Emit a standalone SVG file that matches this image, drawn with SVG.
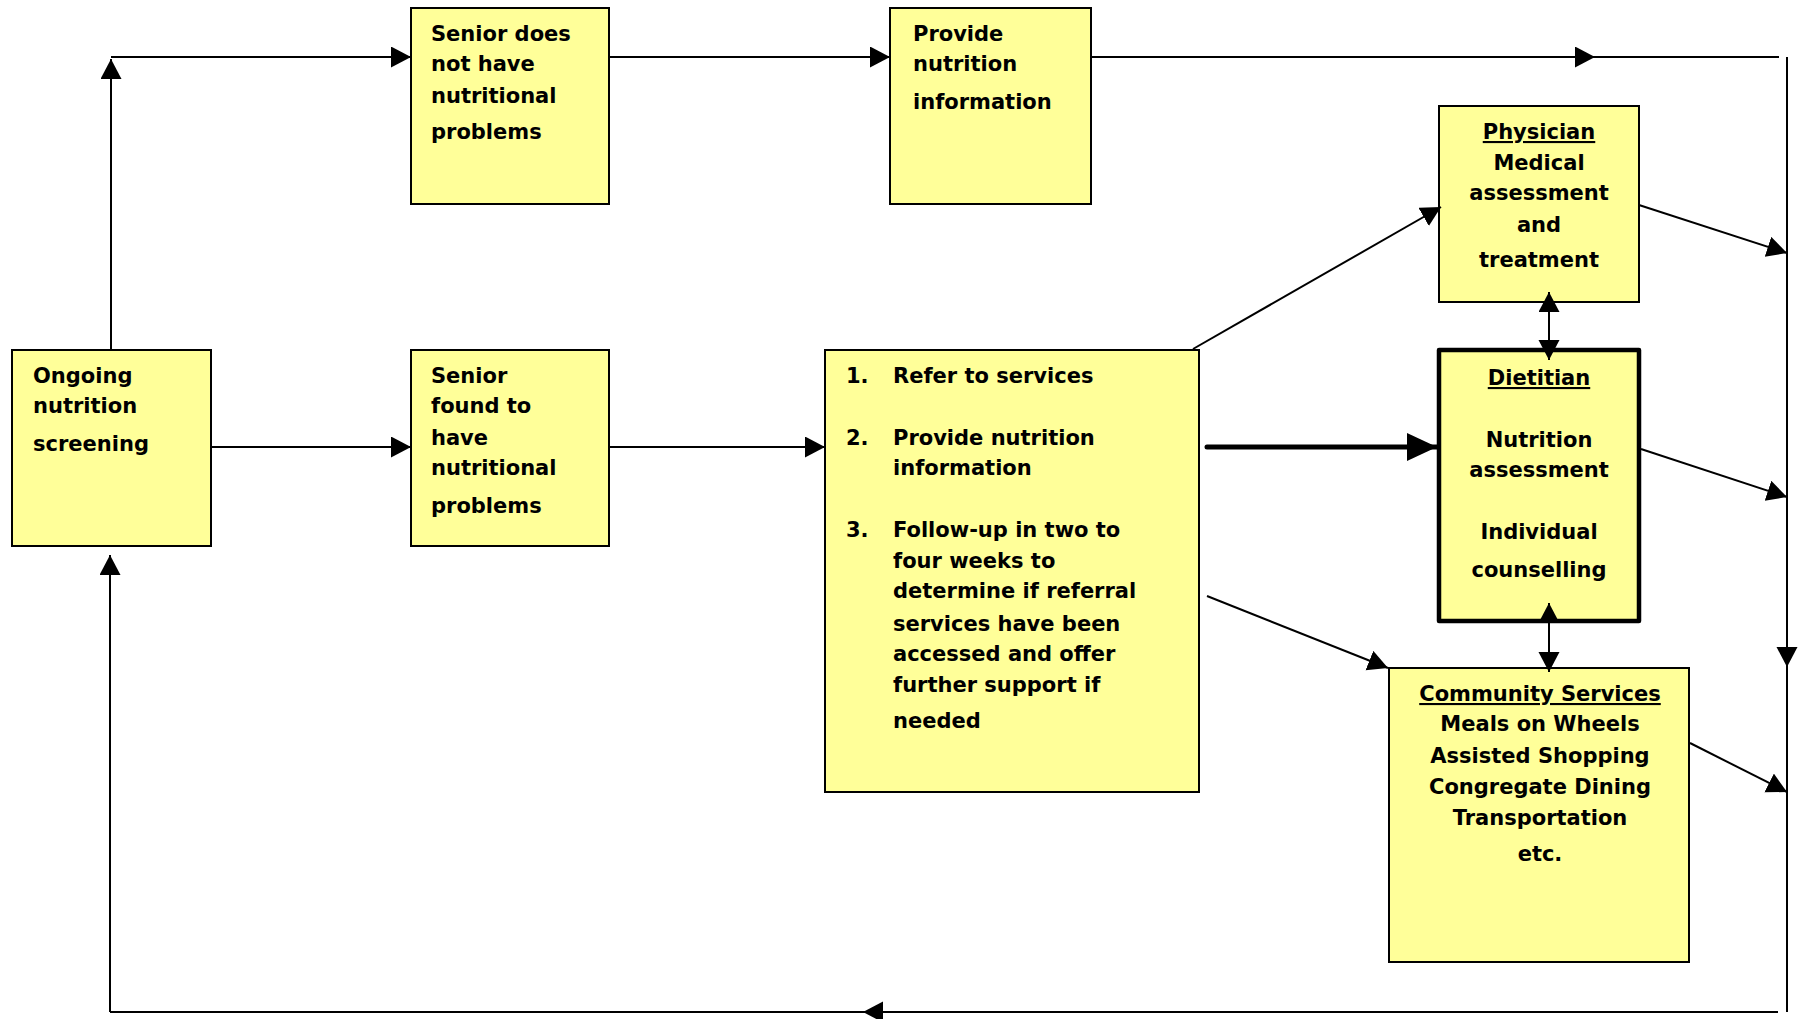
<svg xmlns="http://www.w3.org/2000/svg" width="1799" height="1019" viewBox="0 0 1799 1019">
<style>
.box{fill:#ffff99;stroke:#000;stroke-width:2}
.thick{fill:#ffff99;stroke:#000;stroke-width:4.5;stroke-linejoin:round}
text{font-family:"DejaVu Sans",Verdana,sans-serif;font-weight:bold;font-size:21px;fill:#000}
.c{text-anchor:middle}
.u{text-decoration:underline}
.ln{stroke:#000;stroke-width:2;fill:none}
</style>
<defs>
<marker id="ah" markerUnits="userSpaceOnUse" markerWidth="21" markerHeight="22" refX="20" refY="10.5" orient="auto-start-reverse" viewBox="0 0 21 22">
<path d="M0,0 L20,10.5 L0,21 z" fill="#000"/>
</marker>
<marker id="ahb" markerUnits="userSpaceOnUse" markerWidth="31" markerHeight="29" refX="30" refY="14" orient="auto" viewBox="0 0 31 29">
<path d="M0,0 L30,14 L0,28 z" fill="#000"/>
</marker>
</defs>
<rect width="1799" height="1019" fill="#fff"/>
<g id="node-screening">
<rect class="box" x="12" y="350" width="199" height="196"/>
<text x="33" y="383">Ongoing</text>
<text x="33" y="413">nutrition</text>
<text x="33" y="451">screening</text>
</g>
<g id="node-no-problems">
<rect class="box" x="411" y="8" width="198" height="196"/>
<text x="431" y="41">Senior does</text>
<text x="431" y="71">not have</text>
<text x="431" y="103">nutritional</text>
<text x="431" y="139">problems</text>
</g>
<g id="node-provide-info">
<rect class="box" x="890" y="8" width="201" height="196"/>
<text x="913" y="41">Provide</text>
<text x="913" y="71">nutrition</text>
<text x="913" y="109">information</text>
</g>
<g id="node-has-problems">
<rect class="box" x="411" y="350" width="198" height="196"/>
<text x="431" y="383">Senior</text>
<text x="431" y="413">found to</text>
<text x="431" y="445">have</text>
<text x="431" y="475">nutritional</text>
<text x="431" y="513">problems</text>
</g>
<g id="node-actions">
<rect class="box" x="825" y="350" width="374" height="442"/>
<text x="846" y="383">1.</text>
<text x="893" y="383">Refer to services</text>
<text x="846" y="445">2.</text>
<text x="893" y="445">Provide nutrition</text>
<text x="893" y="475">information</text>
<text x="846" y="537">3.</text>
<text x="893" y="537">Follow-up in two to</text>
<text x="893" y="568">four weeks to</text>
<text x="893" y="598">determine if referral</text>
<text x="893" y="631">services have been</text>
<text x="893" y="661">accessed and offer</text>
<text x="893" y="692">further support if</text>
<text x="893" y="728">needed</text>
</g>
<g id="node-physician">
<rect class="box" x="1439" y="106" width="200" height="196"/>
<text class="c u" x="1539" y="139">Physician</text>
<text class="c" x="1539" y="170">Medical</text>
<text class="c" x="1539" y="200">assessment</text>
<text class="c" x="1539" y="232">and</text>
<text class="c" x="1539" y="267">treatment</text>
</g>
<g id="node-dietitian">
<rect class="thick" x="1439" y="350" width="200" height="271"/>
<text class="c u" x="1539" y="385">Dietitian</text>
<text class="c" x="1539" y="447">Nutrition</text>
<text class="c" x="1539" y="477">assessment</text>
<text class="c" x="1539" y="539">Individual</text>
<text class="c" x="1539" y="577">counselling</text>
</g>
<g id="node-community">
<rect class="box" x="1389" y="668" width="300" height="294"/>
<text class="c u" x="1540" y="701">Community Services</text>
<text class="c" x="1540" y="731">Meals on Wheels</text>
<text class="c" x="1540" y="763">Assisted Shopping</text>
<text class="c" x="1540" y="794">Congregate Dining</text>
<text class="c" x="1540" y="825">Transportation</text>
<text class="c" x="1540" y="861">etc.</text>
</g>
<g id="connectors">
<line class="ln" x1="111" y1="350" x2="111" y2="59" marker-end="url(#ah)"/>
<line class="ln" x1="111" y1="57" x2="411" y2="57" marker-end="url(#ah)"/>
<line class="ln" x1="609" y1="57" x2="890" y2="57" marker-end="url(#ah)"/>
<line class="ln" x1="1091" y1="57" x2="1595" y2="57" marker-end="url(#ah)"/>
<line class="ln" x1="1595" y1="57" x2="1779" y2="57"/>
<line class="ln" x1="1787" y1="57" x2="1787" y2="667" marker-end="url(#ah)"/>
<line class="ln" x1="1787" y1="667" x2="1787" y2="1012"/>
<line class="ln" x1="1778" y1="1012" x2="863" y2="1012" marker-end="url(#ah)"/>
<line class="ln" x1="863" y1="1012" x2="110" y2="1012"/>
<line class="ln" x1="110" y1="1012" x2="110" y2="555" marker-end="url(#ah)"/>
<line class="ln" x1="211" y1="447" x2="411" y2="447" marker-end="url(#ah)"/>
<line class="ln" x1="609" y1="447" x2="825" y2="447" marker-end="url(#ah)"/>
<line x1="1207" y1="447" x2="1437" y2="447" stroke="#000" stroke-width="5" stroke-linecap="round" marker-end="url(#ahb)"/>
<line class="ln" x1="1193" y1="349" x2="1441" y2="207" marker-end="url(#ah)"/>
<line class="ln" x1="1207" y1="596" x2="1388" y2="668" marker-end="url(#ah)"/>
<line class="ln" x1="1549" y1="292" x2="1549" y2="360" marker-start="url(#ah)" marker-end="url(#ah)"/>
<line class="ln" x1="1549" y1="603" x2="1549" y2="672" marker-start="url(#ah)" marker-end="url(#ah)"/>
<line class="ln" x1="1639" y1="205" x2="1787" y2="253" marker-end="url(#ah)"/>
<line class="ln" x1="1641" y1="449" x2="1787" y2="497" marker-end="url(#ah)"/>
<line class="ln" x1="1690" y1="743" x2="1787" y2="792" marker-end="url(#ah)"/>
</g>
</svg>
